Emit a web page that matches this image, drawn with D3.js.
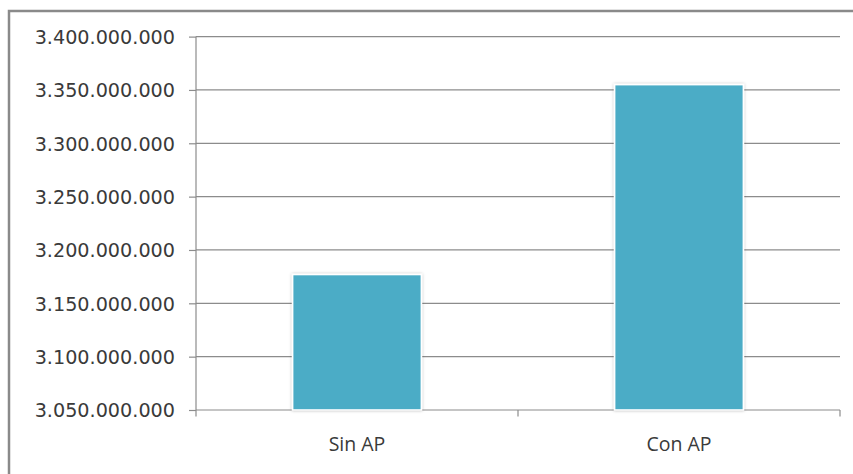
<!DOCTYPE html>
<html>
<head>
<meta charset="utf-8">
<script src="https://cdn.jsdelivr.net/npm/d3@7"></script>
<style>
  html, body { margin: 0; padding: 0; background: #ffffff; }
  svg { display: block; }
</style>
</head>
<body>
<svg id="chart" width="853" height="474"></svg>
<script>
// Chart data
const categories = ["Sin AP", "Con AP"];
const values = [3177000000, 3355000000];
const yTicks = [3050000000, 3100000000, 3150000000, 3200000000, 3250000000, 3300000000, 3350000000, 3400000000];

const W = 853, H = 474;
const margin = { left: 196, right: 13, top: 36.6, bottom: 64 };
const svg = d3.select("#chart");

// Spanish-style number grouping: 3.400.000.000
const locale = d3.formatLocale({ decimal: ",", thousands: ".", grouping: [3], currency: ["", "€"] });
const fmt = locale.format(",d");

const x = d3.scaleBand()
  .domain(categories)
  .range([margin.left, W - margin.right])
  .padding(0);

const y = d3.scaleLinear()
  .domain([yTicks[0], yTicks[yTicks.length - 1]])
  .range([H - margin.bottom, margin.top]);

// Outer frame
svg.append("rect")
  .attr("x", 9).attr("y", 11)
  .attr("width", 900).attr("height", 500)
  .attr("fill", "#ffffff")
  .attr("stroke", "#8a8a8a")
  .attr("stroke-width", 2.5);

// Soft shadow for the bars
const defs = svg.append("defs");
const f = defs.append("filter").attr("id", "shadow")
  .attr("x", "-10%").attr("y", "-10%").attr("width", "120%").attr("height", "120%");
f.append("feDropShadow")
  .attr("dx", 0).attr("dy", 0)
  .attr("stdDeviation", 1.6)
  .attr("flood-color", "#000")
  .attr("flood-opacity", 0.28);

// Horizontal gridlines + y tick marks
const yAxis = d3.axisLeft(y)
  .tickValues(yTicks)
  .tickSize(7)
  .tickFormat(fmt);

const gy = svg.append("g")
  .attr("transform", `translate(${margin.left},0)`)
  .call(yAxis);
gy.select(".domain").remove();
gy.selectAll(".tick line").attr("stroke", "#8c8c8c").attr("stroke-width", 1.2);
gy.selectAll(".tick text")
  .attr("x", -21)
  .attr("dy", "0.36em")
  .attr("fill", "#3a3a3a")
  .style("font-family", "'DejaVu Sans', sans-serif")
  .style("font-size", "19.2px");

svg.append("g")
  .selectAll("line")
  .data(yTicks)
  .join("line")
  .attr("x1", margin.left).attr("x2", W - margin.right)
  .attr("y1", d => y(d)).attr("y2", d => y(d))
  .attr("stroke", "#8c8c8c")
  .attr("stroke-width", 1.2);

// Vertical axis line
svg.append("line")
  .attr("x1", margin.left).attr("x2", margin.left)
  .attr("y1", margin.top).attr("y2", H - margin.bottom + 6.5)
  .attr("stroke", "#8c8c8c").attr("stroke-width", 1.2);

// Category separators on the x axis
const sepX = [margin.left, margin.left + x.step(), W - margin.right];
svg.append("g").selectAll("line")
  .data(sepX.slice(1))
  .join("line")
  .attr("x1", d => d).attr("x2", d => d)
  .attr("y1", H - margin.bottom).attr("y2", H - margin.bottom + 6.5)
  .attr("stroke", "#8c8c8c").attr("stroke-width", 1.2);

// Bars
const barFrac = 0.4;
svg.append("g")
  .selectAll("rect")
  .data(categories.map((c, i) => ({ c, v: values[i] })))
  .join("rect")
  .attr("x", d => x(d.c) + x.bandwidth() * (1 - barFrac) / 2)
  .attr("width", x.bandwidth() * barFrac)
  .attr("y", d => y(d.v))
  .attr("height", d => y(yTicks[0]) - y(d.v))
  .attr("fill", "#4bacc6")
  .attr("stroke", "#ffffff")
  .attr("stroke-width", 1.6)
  .attr("filter", "url(#shadow)");

// Category labels
svg.append("g")
  .selectAll("text")
  .data(categories)
  .join("text")
  .attr("x", d => x(d) + x.bandwidth() / 2)
  .attr("y", 450.5)
  .attr("text-anchor", "middle")
  .attr("fill", "#3a3a3a")
  .style("font-family", "'Open Sans', sans-serif")
  .style("font-size", "19.5px")
  .text(d => d);
</script>
</body>
</html>
